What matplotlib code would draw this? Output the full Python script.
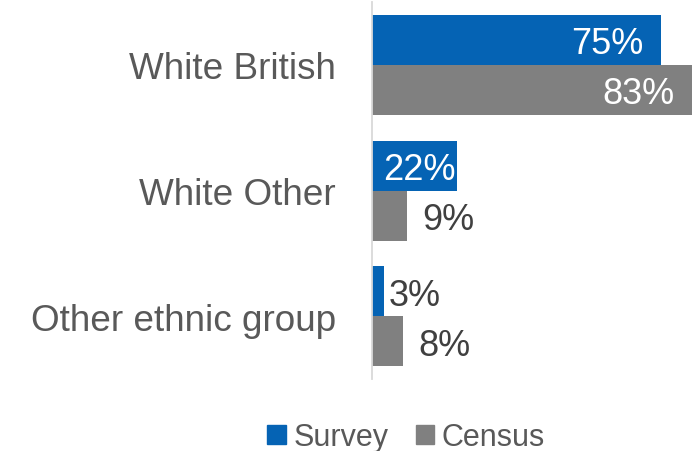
import matplotlib.pyplot as plt
from matplotlib.patches import Patch

plt.rcParams['font.family'] = ['Liberation Sans', 'DejaVu Sans']

groups = ['White British', 'White Other', 'Other ethnic group']
survey = [75, 22, 3]
census = [83, 9, 8]
series_names = ['Survey', 'Census']

blue = '#0563B4'
grey = '#808080'
text_grey = '#595959'

fig = plt.figure(figsize=(6.92, 4.52), dpi=100)
ax = fig.add_axes([0.5376, 0.1593, 0.4624, 0.834])

bar_h = 0.398
ypos = range(len(groups))
b1 = ax.barh([y - bar_h / 2 for y in ypos], survey, height=bar_h, color=blue)
b2 = ax.barh([y + bar_h / 2 for y in ypos], census, height=bar_h, color=grey)

ax.set_xlim(0, 83)
ax.set_ylim(2.5, -0.5)
ax.set_yticks(list(ypos))
ax.set_yticklabels(groups, fontsize=26.6, color=text_grey)
ax.tick_params(axis='y', length=0, pad=26)
ax.set_xticks([])
for s in ['top', 'right', 'bottom']:
    ax.spines[s].set_visible(False)
ax.spines['left'].set_color('#D9D9D9')
ax.spines['left'].set_linewidth(1.3)

# label position per bar: (inside?, offset in points)
def put_label(bar, v, inside, off):
    y = bar.get_y() + bar.get_height() / 2
    ax.annotate(f'{v}%', (v, y), xytext=(off, 0), textcoords='offset points',
                ha='right' if inside else 'left', va='center_baseline',
                fontsize=26, color='white' if inside else '#404040',
                annotation_clip=False)

survey_lbl = [(True, -13), (True, -1), (False, 3.5)]
census_lbl = [(True, -12.5), (False, 11.5), (False, 11.5)]
for bar, v, (inside, off) in zip(b1, survey, survey_lbl):
    put_label(bar, v, inside, off)
for bar, v, (inside, off) in zip(b2, census, census_lbl):
    put_label(bar, v, inside, off)

handles = [Patch(color=blue), Patch(color=grey)]
fig.legend(handles, series_names, loc='center', bbox_to_anchor=(0.587, 0.031),
           ncol=2, frameon=False, fontsize=22, handlelength=0.6, handleheight=0.6,
           handletextpad=0.25, columnspacing=0.9, labelcolor=text_grey,
           borderpad=0)

fig.savefig('out.png', dpi=100)
